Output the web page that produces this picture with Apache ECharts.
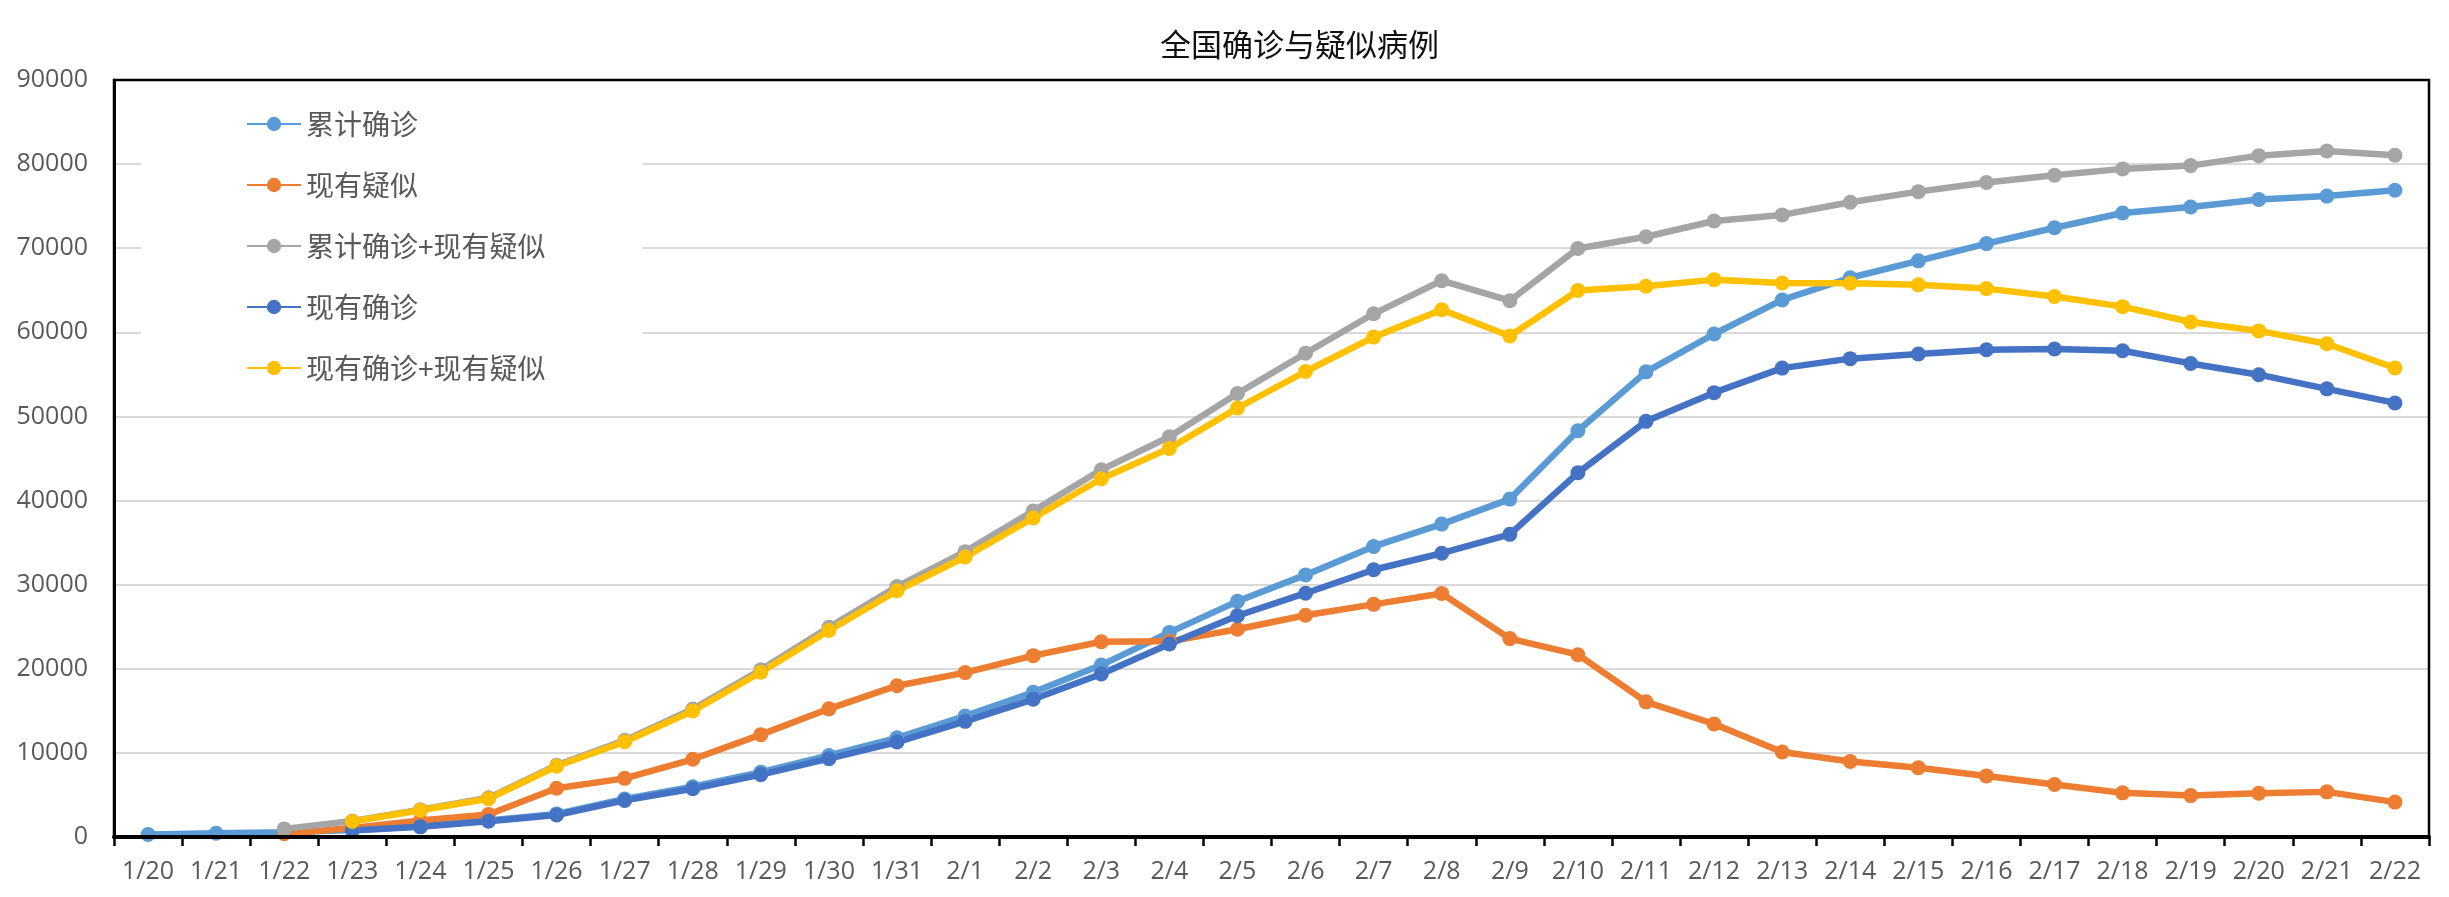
<!DOCTYPE html>
<html>
<head>
<meta charset="utf-8">
<script src="https://cdn.jsdelivr.net/npm/echarts@6/dist/echarts.min.js"></script>
<style>
html,body{margin:0;padding:0;background:#fff;}
#chart{width:2449px;height:897px;}
</style>
</head>
<body>
<div id="chart"></div>
<script>
var categories = ['1/20','1/21','1/22','1/23','1/24','1/25','1/26','1/27','1/28','1/29','1/30','1/31',
  '2/1','2/2','2/3','2/4','2/5','2/6','2/7','2/8','2/9','2/10','2/11','2/12','2/13','2/14','2/15',
  '2/16','2/17','2/18','2/19','2/20','2/21','2/22'];

var cumulativeConfirmed = [291,440,571,830,1287,1975,2744,4515,5974,7711,9692,11791,
  14380,17205,20438,24324,28018,31161,34546,37198,40171,48300,55300,59804,63851,66492,68500,
  70548,72436,74185,74900,75800,76200,76900];

var currentSuspected = [null,null,393,1072,1965,2684,5794,6973,9239,12167,15238,17988,
  19544,21558,23214,23260,24702,26359,27657,28942,23589,21675,16067,13435,10109,8969,8228,
  7264,6242,5248,4922,5206,5365,4148];

var cumulativePlusSuspected = [null,null,964,1902,3252,4659,8538,11488,15213,19878,24930,29779,
  33924,38763,43652,47584,52720,57520,62203,66140,63760,69975,71367,73239,73960,75461,76728,
  77812,78678,79433,79822,81006,81565,81048];

var currentConfirmed = [null,null,null,771,1208,1870,2613,4349,5739,7417,9308,11289,
  13748,16369,19381,22942,26302,28985,31774,33738,35982,43300,49420,52830,55748,56873,57416,
  57934,58016,57805,56303,54965,53284,51606];

var currentPlusSuspected = [null,null,null,1843,3173,4554,8407,11322,14978,19584,24546,29277,
  33292,37927,42595,46202,51004,55344,59431,62680,59571,64975,65487,66265,65857,65842,65644,
  65198,64258,63053,61225,60171,58649,55754];

var seriesNames = ['累计确诊','现有疑似','累计确诊+现有疑似','现有确诊','现有确诊+现有疑似'];
var seriesData = [cumulativeConfirmed, currentSuspected, cumulativePlusSuspected, currentConfirmed, currentPlusSuspected];
var seriesColors = ['#5B9BD5','#ED7D31','#A5A5A5','#4472C4','#FFC000'];

var W = 2449, H = 897;
var gridBox = {left: 114, right: 20, top: 80, bottom: 60};

var chart = echarts.init(document.getElementById('chart'));
var labelFont = '"Open Sans", "Noto Sans", sans-serif';
var cjkFont = '"Noto Sans CJK SC", sans-serif';

chart.setOption({
  animation: false,
  backgroundColor: '#fff',
  title: {
    text: '全国确诊与疑似病例',
    left: 1160,
    top: 29,
    padding: 0,
    textStyle: {fontFamily: cjkFont, fontSize: 31, fontWeight: 'normal', color: '#111'}
  },
  legend: {
    orient: 'vertical',
    left: 141,
    top: 95,
    padding: [14, 97, 32, 105],
    backgroundColor: '#fff',
    itemWidth: 54,
    itemHeight: 18,
    itemGap: 31,
    textStyle: {fontFamily: cjkFont, fontSize: 28, color: '#595959', lineHeight: 30},
    data: seriesNames
  },
  grid: {
    left: gridBox.left, right: gridBox.right, top: gridBox.top, bottom: gridBox.bottom,
    show: false,
    containLabel: false
  },
  graphic: [{
    type: 'rect',
    silent: true,
    z: 100,
    shape: {
      x: gridBox.left,
      y: gridBox.top,
      width: W - gridBox.left - gridBox.right,
      height: H - gridBox.top - gridBox.bottom
    },
    style: {fill: 'transparent', stroke: '#000', lineWidth: 2.5}
  }],
  xAxis: [{
    type: 'category',
    data: categories,
    boundaryGap: true,
    z: 6,
    axisLine: {show: true, onZero: false, lineStyle: {color: '#000', width: 4}},
    axisTick: {show: true, inside: false, length: 9, alignWithLabel: false, lineStyle: {color: '#000', width: 2.5}},
    axisLabel: {interval: 0, margin: 22, fontFamily: labelFont, fontSize: 25, color: '#595959'},
    splitLine: {show: false}
  }],
  yAxis: [{
    type: 'value',
    min: 0, max: 90000, interval: 10000,
    z: 1,
    axisLine: {show: true, onZero: false, lineStyle: {color: '#000', width: 3}},
    axisTick: {show: false},
    axisLabel: {margin: 26, fontFamily: labelFont, fontSize: 25, color: '#595959',
      formatter: function (v) { return String(v); }},
    splitLine: {show: true, lineStyle: {color: '#d9d9d9', width: 2}}
  }],
  series: seriesNames.map(function (name, i) {
    return {
      name: name,
      type: 'line',
      data: seriesData[i],
      symbol: 'circle',
      symbolSize: 15,
      showSymbol: true,
      connectNulls: false,
      z: 2,
      color: seriesColors[i],
      lineStyle: {width: 6.5, color: seriesColors[i]},
      itemStyle: {color: seriesColors[i]},
      emphasis: {disabled: true}
    };
  })
});
</script>
</body>
</html>
